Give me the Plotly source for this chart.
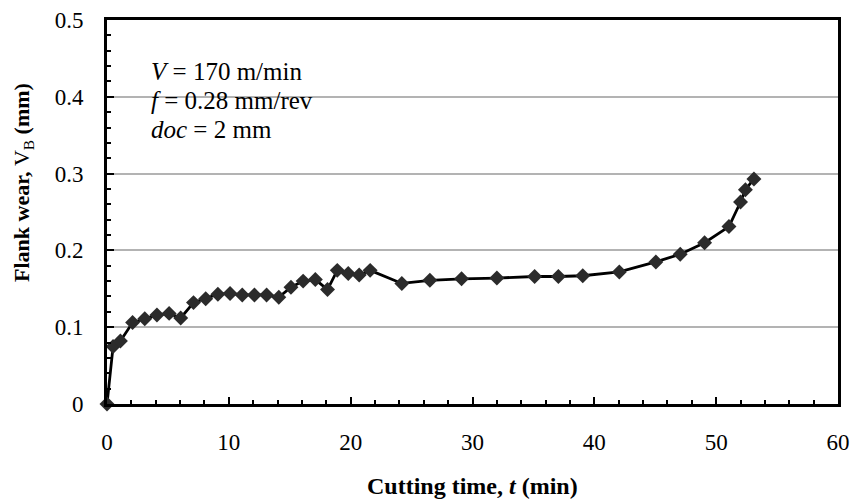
import plotly.graph_objects as go

time_min = [0, 0.5, 1.1, 2.1, 3.1, 4.1, 5.1, 6.05, 7.1, 8.1, 9.1, 10.1, 11.1, 12.1, 13.1, 14.1,
            15.1, 16.1, 17.1, 18.1, 18.9, 19.8, 20.7, 21.6, 24.2, 26.5, 29.1, 32.0, 35.1, 37.05,
            39.05, 42.05, 45.05, 47.05, 49.05, 51.05, 52.0, 52.4, 53.1]
flank_wear = [0, 0.075, 0.082, 0.106, 0.111, 0.116, 0.118, 0.112, 0.132, 0.137, 0.143, 0.144,
              0.142, 0.142, 0.142, 0.139, 0.152, 0.160, 0.162, 0.149, 0.174, 0.170, 0.168, 0.174,
              0.157, 0.161, 0.163, 0.164, 0.166, 0.166, 0.167, 0.172, 0.185, 0.195, 0.210, 0.231,
              0.263, 0.279, 0.293]

x_ticks = [0, 10, 20, 30, 40, 50, 60]
y_ticks = [0, 0.1, 0.2, 0.3, 0.4, 0.5]
y_tick_labels = ["0", "0.1", "0.2", "0.3", "0.4", "0.5"]
note_lines = ["<i>V</i> = 170 m/min", "<i>f</i> = 0.28 mm/rev", "<i>doc</i> = 2 mm"]

FONT = "Liberation Serif, Times New Roman, serif"
W, H = 851, 499
L, R, T, B = 107, 13, 20, 95
pw = W - L - R
ph = H - T - B


def px_x(x):
    return (x - L) / pw


def px_y(y):
    return (H - B - y) / ph


fig = go.Figure()
fig.add_trace(go.Scatter(
    x=time_min, y=flank_wear, mode="lines+markers",
    line=dict(color="black", width=2.8),
    marker=dict(symbol="diamond", size=11.5, color="#2b2b2b"),
    showlegend=False, cliponaxis=False,
))

annotations = [
    dict(text="<b>Cutting time, <i>t</i> (min)</b>", x=0.5, y=px_y(486),
         xref="paper", yref="paper", showarrow=False, yanchor="middle",
         font=dict(family=FONT, size=24)),
    dict(text="<b>Flank wear, </b>V<sub>B</sub><b> (mm)</b>", x=px_x(23), y=px_y(183),
         xref="paper", yref="paper", showarrow=False, textangle=-90,
         font=dict(family=FONT, size=22), xanchor="center", yanchor="middle"),
]
for i, line in enumerate(note_lines):
    annotations.append(dict(
        text=line, x=px_x(149), y=px_y(72 + 28.5 * i), xref="paper", yref="paper",
        showarrow=False, xanchor="left", yanchor="middle", font=dict(family=FONT, size=25)))

fig.update_layout(
    width=W, height=H,
    margin=dict(l=L, r=R, t=T, b=B, autoexpand=False),
    paper_bgcolor="white", plot_bgcolor="white",
    font=dict(family=FONT, size=23, color="black"),
    xaxis=dict(
        range=[0, 60], tickvals=x_ticks, ticks="inside", ticklen=7, tickwidth=2,
        tickcolor="black", showline=True, linecolor="black", linewidth=3, mirror=True,
        showgrid=False, zeroline=False, ticklabelstandoff=15,
        minor=dict(dtick=2, ticks="inside", ticklen=4, tickwidth=2, tickcolor="black", showgrid=False),
        tickfont=dict(family=FONT, size=23),
    ),
    yaxis=dict(
        range=[0, 0.5], tickvals=y_ticks, ticktext=y_tick_labels, ticks="inside", ticklen=7,
        tickwidth=2, tickcolor="black", showline=True, linecolor="black", linewidth=3,
        mirror=True, showgrid=True, gridcolor="#b3b3b3", gridwidth=1.5, zeroline=False,
        ticklabelstandoff=16,
        minor=dict(dtick=0.02, ticks="inside", ticklen=4, tickwidth=2, tickcolor="black", showgrid=False),
        tickfont=dict(family=FONT, size=23),
    ),
    annotations=annotations,
)

fig.write_html("out.html", config={"displayModeBar": False},
               post_script="document.body.style.margin='0';")
